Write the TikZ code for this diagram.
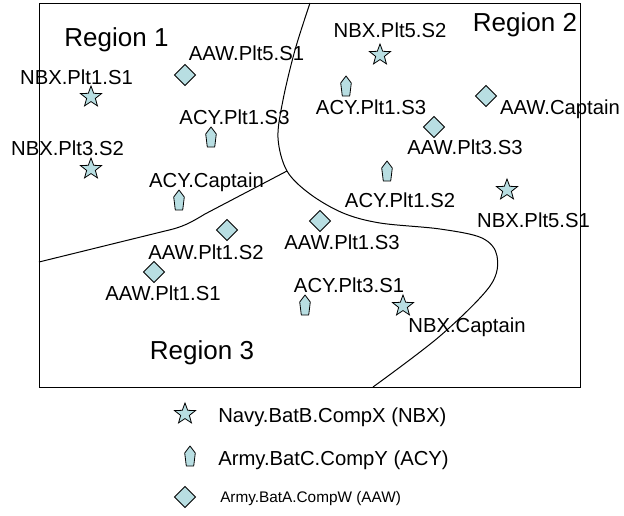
\documentclass[tikz,border=0pt]{standalone}
\usepackage{fontspec}
\setmainfont{Liberation Sans}
\usetikzlibrary{shapes.geometric}
\definecolor{markfill}{RGB}{184,222,226}
\tikzset{
  lbl/.style={font=\fontsize{15.2pt}{18pt}\selectfont, inner sep=0pt, text height=10.9pt, text depth=0pt},
  regionlbl/.style={font=\fontsize{19.5pt}{23pt}\selectfont, inner sep=0pt, text height=14pt, text depth=0pt},
  smalllbl/.style={font=\fontsize{11.5pt}{14pt}\selectfont, inner sep=0pt, text height=8.2pt, text depth=0pt},
  boundary/.style={line width=0.75pt},
  navymark/.style={star, star points=5, star point ratio=2.4, minimum size=16.5pt, inner sep=0pt,
    draw, fill=markfill, line width=0.6pt},
  aawmark/.style={diamond, minimum width=16pt, minimum height=16pt, inner sep=0pt,
    draw, fill=markfill, line width=0.6pt},
  acymark/.pic={\draw[fill=markfill, line width=0.6pt, line join=round]
    (0,-10) -- (5.3,-3) -- (3.7,10) -- (-3.7,10) -- (-5.3,-3) -- cycle;},
}
\begin{document}
\begin{tikzpicture}[x=0.75pt,y=-0.75pt]
\useasboundingbox (0,0) rectangle (624,515);

% map frame
\draw[boundary] (39,3) rectangle (580,387);

% region boundaries
\coordinate (ja) at (310,3);
\coordinate (jb) at (373,387);
\coordinate (jc) at (287,171);
\coordinate (jd) at (39,262);
\draw[boundary] plot[smooth, tension=0.55] coordinates
  {(ja) (295,50) (283,100) (278,138) (jc) (310,194) (343,213) (380,223)
   (440,229) (482,238) (497,256) (490,286) (440,336) (jb)};
\draw[boundary] (jd) -- (165,231) .. controls (183,227) and (190,223) .. (205,214) -- (jc);

% region names
\node[regionlbl] (r1) at (116.5,37) {Region 1};
\node[regionlbl] (r2) at (525,22) {Region 2};
\node[regionlbl] (r3) at (202,350) {Region 3};

% Navy.BatB.CompX units
\node[navymark] (nbx11) at (91,97) {};
\node[navymark] (nbx32) at (91,169) {};
\node[navymark] (nbx52) at (380,55) {};
\node[navymark] (nbx51) at (507,190) {};
\node[navymark] (nbxcpt) at (403,306) {};

% Army.BatA.CompW units
\node[aawmark] (aaw51) at (185,75) {};
\node[aawmark] (aaw12) at (227,230) {};
\node[aawmark] (aaw13) at (320,221) {};
\node[aawmark] (aaw11) at (154,272) {};
\node[aawmark] (aawcpt) at (486,96) {};
\node[aawmark] (aaw33) at (434,127) {};

% Army.BatC.CompY units
\pic at (211,137) {acymark};
\pic at (179,200) {acymark};
\pic at (305,305) {acymark};
\pic at (346,86) {acymark};
\pic at (387,171) {acymark};

% unit labels
\node[lbl] (l-nbx11) at (76.5,77) {NBX.Plt1.S1};
\node[lbl] (l-nbx32) at (67.5,148) {NBX.Plt3.S2};
\node[lbl] (l-nbx52) at (390,30) {NBX.Plt5.S2};
\node[lbl] (l-nbx51) at (533.5,220) {NBX.Plt5.S1};
\node[lbl] (l-nbxcpt) at (467,325) {NBX.Captain};
\node[lbl] (l-aaw51) at (246.5,53) {AAW.Plt5.S1};
\node[lbl] (l-aaw12) at (206,252) {AAW.Plt1.S2};
\node[lbl] (l-aaw13) at (342,242) {AAW.Plt1.S3};
\node[lbl] (l-aaw11) at (163,293) {AAW.Plt1.S1};
\node[lbl] (l-aawcpt) at (560,107) {AAW.Captain};
\node[lbl] (l-aaw33) at (465,147) {AAW.Plt3.S3};
\node[lbl] (l-acy13a) at (234.5,117) {ACY.Plt1.S3};
\node[lbl] (l-acycpt) at (206.5,180) {ACY.Captain};
\node[lbl] (l-acy31) at (349,285) {ACY.Plt3.S1};
\node[lbl] (l-acy13b) at (371,107) {ACY.Plt1.S3};
\node[lbl] (l-acy12) at (400,200) {ACY.Plt1.S2};

% legend
\node[navymark] (key-nbx) at (185,414) {};
\pic at (190,456) {acymark};
\node[aawmark] (key-aaw) at (185,497) {};
\node[lbl, anchor=west] (t-nbx) at (218,415) {Navy.BatB.CompX (NBX)};
\node[lbl, anchor=west] (t-acy) at (218,458) {Army.BatC.CompY (ACY)};
\node[smalllbl, anchor=west] (t-aaw) at (220,497) {Army.BatA.CompW (AAW)};
\end{tikzpicture}
\end{document}
